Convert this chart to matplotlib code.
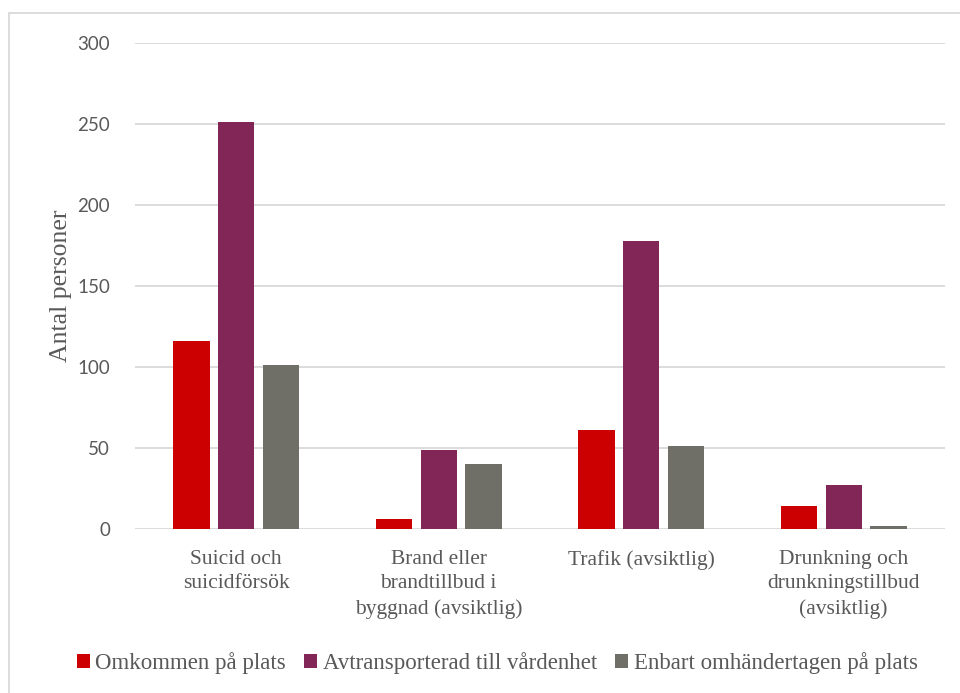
import matplotlib
matplotlib.use("Agg")
import matplotlib.pyplot as plt
import numpy as np
from matplotlib.patches import Rectangle

categories = ["Suicid och\nsuicidförsök",
              "Brand eller\nbrandtillbud i\nbyggnad (avsiktlig)",
              "Trafik (avsiktlig)",
              "Drunkning och\ndrunkningstillbud\n(avsiktlig)"]
series_names = ["Omkommen på plats", "Avtransporterad till vårdenhet",
                "Enbart omhändertagen på plats"]
omkommen = [116, 6, 61, 14]
avtransporterad = [251, 49, 178, 27]
enbart = [101, 40, 51, 2]
colors = ["#CC0000", "#822557", "#6F6F68"]
yticks = [0, 50, 100, 150, 200, 250, 300]

serif = ["Liberation Serif", "DejaVu Serif"]
sans = ["Lato", "DejaVu Sans"]
txt = "#595959"

fig = plt.figure(figsize=(9.6, 6.93), dpi=100)
ax = fig.add_axes([135/960, 1 - 529/693, 810/960, (529 - 43)/693])

x = np.arange(len(categories))
w = 0.18
step = 0.222
for i, (vals, name, c) in enumerate(zip([omkommen, avtransporterad, enbart], series_names, colors)):
    ax.bar(x + (i - 1) * step, vals, width=w, color=c, label=name, zorder=3)

ax.set_xlim(-0.5, len(categories) - 0.5)
ax.set_ylim(0, 300)
ax.set_yticks(yticks)
ax.set_yticklabels([str(t) for t in yticks], fontfamily=sans, fontsize=13.5, color=txt)
ax.tick_params(axis="y", length=0, pad=18)
ax.set_xticks(x)
ax.set_xticklabels(categories, fontfamily=serif, fontsize=15.5, color=txt, linespacing=1.4)
ax.tick_params(axis="x", length=0, pad=15)
ax.grid(axis="y", color="#D9D9D9", linewidth=1.3, zorder=0)
for s in ax.spines.values():
    s.set_visible(False)
ax.set_ylabel("Antal personer", fontfamily=serif, fontsize=18.5, color=txt, labelpad=4)

leg = fig.legend(loc="center", bbox_to_anchor=(0.518, 1 - 663/693), ncol=3, frameon=False,
                 prop={"family": serif, "size": 16.5}, handlelength=0.55, handleheight=0.55,
                 handletextpad=0.25, columnspacing=0.8)
for t in leg.get_texts():
    t.set_color(txt)

fig.patches.append(Rectangle((9/960, -0.1), 1.5, 1.1 - 13/693, transform=fig.transFigure,
                             fill=False, edgecolor="#D9D9D9", linewidth=1.3))

fig.savefig("out.png", dpi=100)
